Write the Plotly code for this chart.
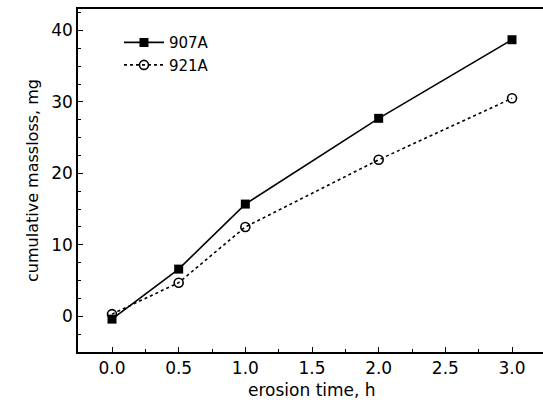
import plotly.graph_objects as go

time_h = [0.0, 0.5, 1.0, 2.0, 3.0]
mass_907A = [-0.4, 6.6, 15.7, 27.7, 38.7]
mass_921A = [0.3, 4.7, 12.5, 21.9, 30.5]
x_ticks = [0, 0.5, 1, 1.5, 2, 2.5, 3]
x_tick_labels = ["0.0", "0.5", "1.0", "1.5", "2.0", "2.5", "3.0"]
y_ticks = [0, 10, 20, 30, 40]

fig = go.Figure()
fig.add_trace(go.Scatter(x=time_h, y=mass_907A, name="907A", mode="lines+markers",
                         line=dict(color="black", width=1.6),
                         marker=dict(symbol="square", size=9, color="black")))
fig.add_trace(go.Scatter(x=time_h, y=mass_921A, name="921A", mode="lines+markers",
                         line=dict(color="black", width=1.6, dash="dot"),
                         marker=dict(symbol="circle-open", size=9, color="black", line=dict(width=1.6))))

font = dict(family="DejaVu Sans, sans-serif", color="black")
fig.update_layout(
    width=560, height=407,
    margin=dict(l=78, r=0, t=9, b=55),
    paper_bgcolor="white", plot_bgcolor="white",
    font=dict(size=17, **font),
    showlegend=True,
    legend=dict(x=0.085, y=0.95, xanchor="left", yanchor="top", bgcolor="rgba(0,0,0,0)",
                font=dict(size=15, **font), tracegroupgap=0, itemwidth=40),
    xaxis=dict(range=[-0.255, 3.36], tickmode="array", tickvals=x_ticks,
               ticktext=x_tick_labels,
               ticks="inside", ticklen=5, tickwidth=1.2, tickcolor="black",
               tickfont=dict(size=17, **font),
               minor=dict(dtick=0.25, ticks="inside", ticklen=3, tickcolor="black", showgrid=False),
               showline=True, linecolor="black", linewidth=1.6, mirror=True,
               showgrid=False, zeroline=False),
    yaxis=dict(range=[-5, 43], tickvals=y_ticks,
               ticks="inside", ticklen=5, tickwidth=1.2, tickcolor="black",
               tickfont=dict(size=17, **font),
               minor=dict(dtick=2.5, tick0=0, ticks="inside", ticklen=3, tickcolor="black", showgrid=False),
               showline=True, linecolor="black", linewidth=1.6,
               showgrid=False, zeroline=False,
               title=dict(text="cumulative massloss, mg", font=dict(size=16, **font), standoff=9)),
    annotations=[dict(text="erosion time, h", xref="x", yref="paper", x=1.5, y=0,
                      yshift=-26, yanchor="top", showarrow=False, font=dict(size=17, **font))],
)
fig.write_html("out.html", config={"displayModeBar": False},
               post_script="document.body.style.margin='0';document.body.style.overflow='hidden';")
